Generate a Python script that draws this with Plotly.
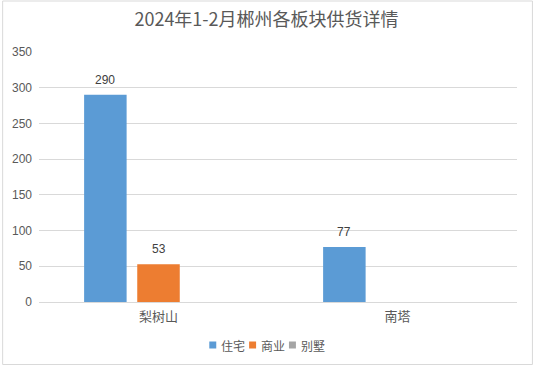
import plotly.graph_objects as go

categories = ["梨树山", "南塔"]
series_names = ["住宅", "商业", "别墅"]
residential = [290, 77]
commercial = [53, None]
villa = [None, None]
tick_vals = [0, 50, 100, 150, 200, 250, 300, 350]

colors = ["#5B9BD5", "#ED7D31", "#A5A5A5"]
values = [residential, commercial, villa]

W, H = 533, 365
L, R, T, B = 37, 16, 52, 63
pw, ph = W - L - R, H - T - B

def px_to_paper_x(px):
    return (px - L) / pw

def px_to_paper_y(py):
    return (H - B - py) / ph

fig = go.Figure()
annotations = []
shapes = []
slot = 53.3
for i, (name, vals, c) in enumerate(zip(series_names, values, colors)):
    fig.add_trace(go.Bar(
        x=categories, y=vals, name=name, marker=dict(color=c, line=dict(width=0)),
        hoverinfo="x+y+name", showlegend=False,
    ))
    for cat, v in zip(categories, vals):
        if v is None:
            continue
        annotations.append(dict(
            x=cat, y=v, xref="x", yref="y", text=str(v), showarrow=False,
            xshift=(i - 1) * slot, yshift=15, yanchor="middle",
            font=dict(size=12, color="#404040", family="Liberation Sans, Arial"),
        ))
    # compact legend entry (square + label), as in the reference
    lx = 208 + i * 40
    ly = 345
    shapes.append(dict(type="rect", xref="paper", yref="paper",
                       x0=px_to_paper_x(lx), x1=px_to_paper_x(lx + 7),
                       y0=px_to_paper_y(ly + 3.5), y1=px_to_paper_y(ly - 3.5),
                       fillcolor=c, line=dict(width=0)))
    annotations.append(dict(x=px_to_paper_x(lx + 10), y=px_to_paper_y(ly),
                            xref="paper", yref="paper", xanchor="left", yanchor="middle",
                            text=name, showarrow=False,
                            font=dict(size=12, color="#595959", family="Noto Sans CJK SC")))

shapes.append(dict(type="rect", xref="paper", yref="paper",
                   x0=px_to_paper_x(0.5), x1=px_to_paper_x(W - 0.5),
                   y0=px_to_paper_y(H - 0.5), y1=px_to_paper_y(1),
                   line=dict(color="#D9D9D9", width=1), layer="below"))

fig.update_layout(
    width=W, height=H,
    margin=dict(l=L, r=R, t=T, b=B),
    paper_bgcolor="white", plot_bgcolor="white",
    barmode="group", bargap=0.333, bargroupgap=0.2,
    title=dict(text="2024年1-2月郴州各板块供货详情", x=0.5, xanchor="center",
               y=1 - 20 / H, yanchor="middle",
               font=dict(size=18, color="#595959", family="Noto Sans CJK SC")),
    font=dict(family="Noto Sans CJK SC", color="#595959"),
    showlegend=False,
    xaxis=dict(showline=True, linecolor="#D9D9D9", linewidth=1, ticks="",
               tickfont=dict(size=13, color="#595959", family="Noto Sans CJK SC"),
               ticklabelstandoff=2, showgrid=False),
    yaxis=dict(range=[0, 350], tickvals=tick_vals, showgrid=True, gridcolor="#D9D9D9",
               gridwidth=1, zeroline=False, showline=False, ticks="",
               tickfont=dict(size=12, color="#595959", family="Liberation Sans, Arial"),
               ticklabelstandoff=6),
    annotations=annotations,
    shapes=shapes,
)

fig.write_html("out.html", config={"displayModeBar": False},
               post_script="document.body.style.margin='0';document.body.style.overflow='hidden';")
